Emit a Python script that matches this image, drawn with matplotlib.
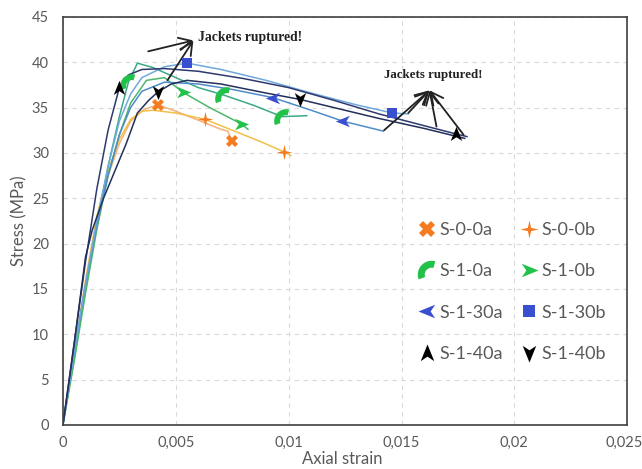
import numpy as np
import matplotlib
matplotlib.use("Agg")
import matplotlib.pyplot as plt
import matplotlib.transforms as mtransforms
from matplotlib.path import Path
from matplotlib.lines import Line2D

# ---------------- data ----------------
names = ["S-0-0a", "S-0-0b", "S-1-0a", "S-1-0b", "S-1-30a", "S-1-30b", "S-1-40a", "S-1-40b"]

strain_s00a = [0, 0.0005, 0.001, 0.0015, 0.002, 0.0025, 0.003, 0.0036, 0.0042, 0.005, 0.006, 0.007, 0.0073, 0.0075]
stress_s00a = [0, 7.5, 15.5, 22.5, 27.5, 31, 33.5, 34.8, 35.3, 34.6, 33.6, 32.6, 32.4, 31.3]

strain_s00b = [0, 0.0005, 0.001, 0.0015, 0.002, 0.0025, 0.003, 0.0035, 0.004, 0.005, 0.0063, 0.0075, 0.0088, 0.0098, 0.0101]
stress_s00b = [0, 8, 16, 23, 28, 31.5, 33.7, 34.6, 34.7, 34.4, 33.7, 32.5, 31.2, 30.1, 29.7]

strain_s10a = [0, 0.0005, 0.001, 0.0015, 0.002, 0.0025, 0.0029, 0.0033, 0.004, 0.005, 0.006, 0.0071, 0.0085, 0.0097, 0.0108]
stress_s10a = [0, 7.5, 15, 22, 28.5, 34, 37.8, 39.9, 39.4, 38.3, 37.2, 36.4, 35.2, 34.0, 34.1]

strain_s10b = [0, 0.0005, 0.001, 0.0015, 0.002, 0.0025, 0.003, 0.0037, 0.0045, 0.0053, 0.0065, 0.0079, 0.0082]
stress_s10b = [0, 7, 14.5, 21.5, 27.5, 32, 35.5, 38.0, 38.3, 36.7, 35.0, 33.2, 32.6]

strain_s130a = [0, 0.0005, 0.001, 0.0015, 0.002, 0.0025, 0.003, 0.0035, 0.0045, 0.006, 0.0075, 0.0093, 0.011, 0.0124, 0.0142]
stress_s130a = [0, 8, 15.5, 22, 27.5, 32, 35, 36.8, 37.8, 37.6, 37.0, 36.1, 34.7, 33.5, 32.4]

strain_s130b = [0, 0.0005, 0.001, 0.0015, 0.002, 0.0025, 0.003, 0.0035, 0.0045, 0.0055, 0.007, 0.009, 0.011, 0.013, 0.0146, 0.0153]
stress_s130b = [0, 8, 15.5, 22.5, 28.5, 33.5, 36.5, 38.3, 39.5, 39.9, 39.2, 38.0, 36.6, 35.3, 34.4, 34.3]

strain_s140a = [0, 0.0005, 0.001, 0.0015, 0.002, 0.0025, 0.0029, 0.0035, 0.0045, 0.006, 0.008, 0.010, 0.012, 0.014, 0.016, 0.0174, 0.0179]
stress_s140a = [0, 9, 18, 26, 32.5, 37.2, 38.6, 39.2, 39.3, 39.0, 38.2, 37.2, 35.8, 34.3, 33.0, 32.1, 31.8]

strain_s140b = [0, 0.0005, 0.001, 0.0013, 0.0018, 0.0023, 0.0028, 0.0033, 0.0038, 0.0042, 0.0048, 0.0055, 0.007, 0.009, 0.0105, 0.012, 0.014, 0.016, 0.0178]
stress_s140b = [0, 9, 18.5, 21.5, 25, 28, 31, 34.4, 35.8, 36.7, 37.6, 38.0, 37.6, 36.6, 35.9, 35.0, 33.8, 32.7, 31.6]

# marker points (strain, stress) per specimen
mk_strain = [[0.0042, 0.0075], [0.0063, 0.0098], [0.0029, 0.0071, 0.0097], [0.0053, 0.0079],
             [0.0093, 0.0124], [0.0055, 0.0146], [0.0025, 0.0174], [0.0042, 0.0105]]
mk_stress = [[35.3, 31.3], [33.7, 30.1], [37.8, 36.4, 34.0], [36.7, 33.2],
             [36.1, 33.5], [39.9, 34.4], [37.2, 32.1], [36.7, 35.9]]

xticks = [0, 0.005, 0.01, 0.015, 0.02, 0.025]
xtick_labels = ["0", "0,005", "0,01", "0,015", "0,02", "0,025"]
yticks = [0, 5, 10, 15, 20, 25, 30, 35, 40, 45]

# annotation arrows (tail points -> apex)
ann_text = "Jackets ruptured!"
ann1_apex = (0.00578, 42.4)
ann1_tails = [(0.00378, 41.2), (0.00463, 38.0)]
ann1_textpos = (0.0060, 42.7)
ann2_apex = (0.01624, 36.9)
ann2_tails = [(0.01423, 32.5), (0.0153, 34.4), (0.01655, 32.9), (0.01775, 32.0)]
ann2_textpos = (0.0164, 38.6)

# ---------------- markers ----------------
def arrowhead(angle_deg):
    v = np.array([(0, 1), (0.75, -0.85), (0, -0.35), (-0.75, -0.85), (0, 1)], float)
    a = np.deg2rad(angle_deg)
    R = np.array([[np.cos(a), -np.sin(a)], [np.sin(a), np.cos(a)]])
    v = v @ R.T
    return Path(v, [Path.MOVETO, Path.LINETO, Path.LINETO, Path.LINETO, Path.CLOSEPOLY])

star4 = Path([(0, 1), (0.18, 0.18), (1, 0), (0.18, -0.18), (0, -1), (-0.18, -0.18), (-1, 0), (-0.18, 0.18), (0, 1)],
             [Path.MOVETO] + [Path.LINETO] * 7 + [Path.CLOSEPOLY])

th = np.linspace(np.deg2rad(75), np.deg2rad(200), 20)
outer = np.c_[np.cos(th), np.sin(th)]
inner = np.c_[0.5 * np.cos(th[::-1]), 0.5 * np.sin(th[::-1])]
arcv = np.vstack([outer, inner, outer[:1]])
arc_marker = Path(arcv - np.array([-0.3, 0.3]), [Path.MOVETO] + [Path.LINETO] * (len(arcv) - 2) + [Path.CLOSEPOLY])

markers = ["X", star4, arc_marker, arrowhead(-90), arrowhead(90), "s", arrowhead(0), arrowhead(180)]
mcolors = ["#f47b20", "#f47b20", "#22c24a", "#22c24a", "#3a4fd0", "#3a4fd0", "#000000", "#000000"]
msizes = [9, 11, 12, 11, 11, 7, 11, 11]
lcolors = ["#f4b27a", "#f2c04a", "#3aa987", "#4cb86a", "#4f8cc9", "#6fa8dc", "#2e3a6e", "#22305a"]

strains = [strain_s00a, strain_s00b, strain_s10a, strain_s10b, strain_s130a, strain_s130b, strain_s140a, strain_s140b]
stresses = [stress_s00a, stress_s00b, stress_s10a, stress_s10b, stress_s130a, stress_s130b, stress_s140a, stress_s140b]

# ---------------- figure ----------------
plt.rcParams['font.family'] = ['Lato', 'DejaVu Sans']
fig = plt.figure(figsize=(6.42, 4.69), dpi=100)
ax = fig.add_axes([0.098, 0.094, 0.879, 0.870])

for i in range(8):
    ax.plot(strains[i], stresses[i], color=lcolors[i], lw=1.1, zorder=2, solid_joinstyle="round")
for i in range(8):
    ax.plot(mk_strain[i], mk_stress[i], ls="none", marker=markers[i], color=mcolors[i],
            markersize=msizes[i], markeredgewidth=0, zorder=4)

# annotations
aprops = dict(arrowstyle="->,head_length=0.9,head_width=0.45", color="#222222", lw=1.3, shrinkA=0, shrinkB=0)
for t in ann1_tails:
    ax.annotate("", xy=ann1_apex, xytext=t, arrowprops=aprops)
ax.text(ann1_textpos[0], ann1_textpos[1], ann_text, fontfamily="Liberation Serif", fontweight="bold",
        fontsize=9.8, color="#222222", ha="left", va="center")
for t in ann2_tails:
    ax.annotate("", xy=ann2_apex, xytext=t, arrowprops=aprops)
ax.text(ann2_textpos[0], ann2_textpos[1], ann_text, fontfamily="Liberation Serif", fontweight="bold",
        fontsize=9.3, color="#222222", ha="center", va="center")

ax.set_xlim(0, 0.025)
ax.set_ylim(0, 45)
ax.set_xticks(xticks)
ax.set_xticklabels(xtick_labels)
ax.set_yticks(yticks)
ax.tick_params(length=0, labelsize=10.5, labelcolor="#595959")
ax.tick_params(axis="y", pad=10)
ax.tick_params(axis="x", pad=8)
ax.grid(True, ls=(0, (4, 4)), color="#d9d9d9", lw=0.8, zorder=0)
ax.set_axisbelow(True)
for s in ax.spines.values():
    s.set_color("#404040")
    s.set_linewidth(1.2)

# keep last x tick label inside the figure
lbl = ax.get_xticklabels()[-1]
lbl.set_transform(lbl.get_transform() + mtransforms.ScaledTranslation(-3 / 100, 0, fig.dpi_scale_trans))

ax.set_xlabel("Axial strain", fontsize=12, color="#595959")
ax.xaxis.set_label_coords(0.495, -0.084)
ax.xaxis.label.set_va("center")
ax.set_ylabel("Stress (MPa)", fontsize=12, color="#595959")
ax.yaxis.set_label_coords(-0.063, 0.50)

handles = [Line2D([], [], ls="none", marker=markers[i], color=mcolors[i], markersize=msizes[i] + 2,
                  markeredgewidth=0) for i in range(8)]
h_ord = [handles[i] for i in [0, 2, 4, 6, 1, 3, 5, 7]]
n_ord = [names[i] for i in [0, 2, 4, 6, 1, 3, 5, 7]]
leg = ax.legend(h_ord, n_ord, ncol=2, frameon=False, fontsize=13, labelcolor="#595959",
                loc="upper left", bbox_to_anchor=(0.62, 0.515), handlelength=0.8, handletextpad=0.3,
                columnspacing=1.0, labelspacing=1.4, borderaxespad=0)

fig.savefig("out.png", dpi=100)
